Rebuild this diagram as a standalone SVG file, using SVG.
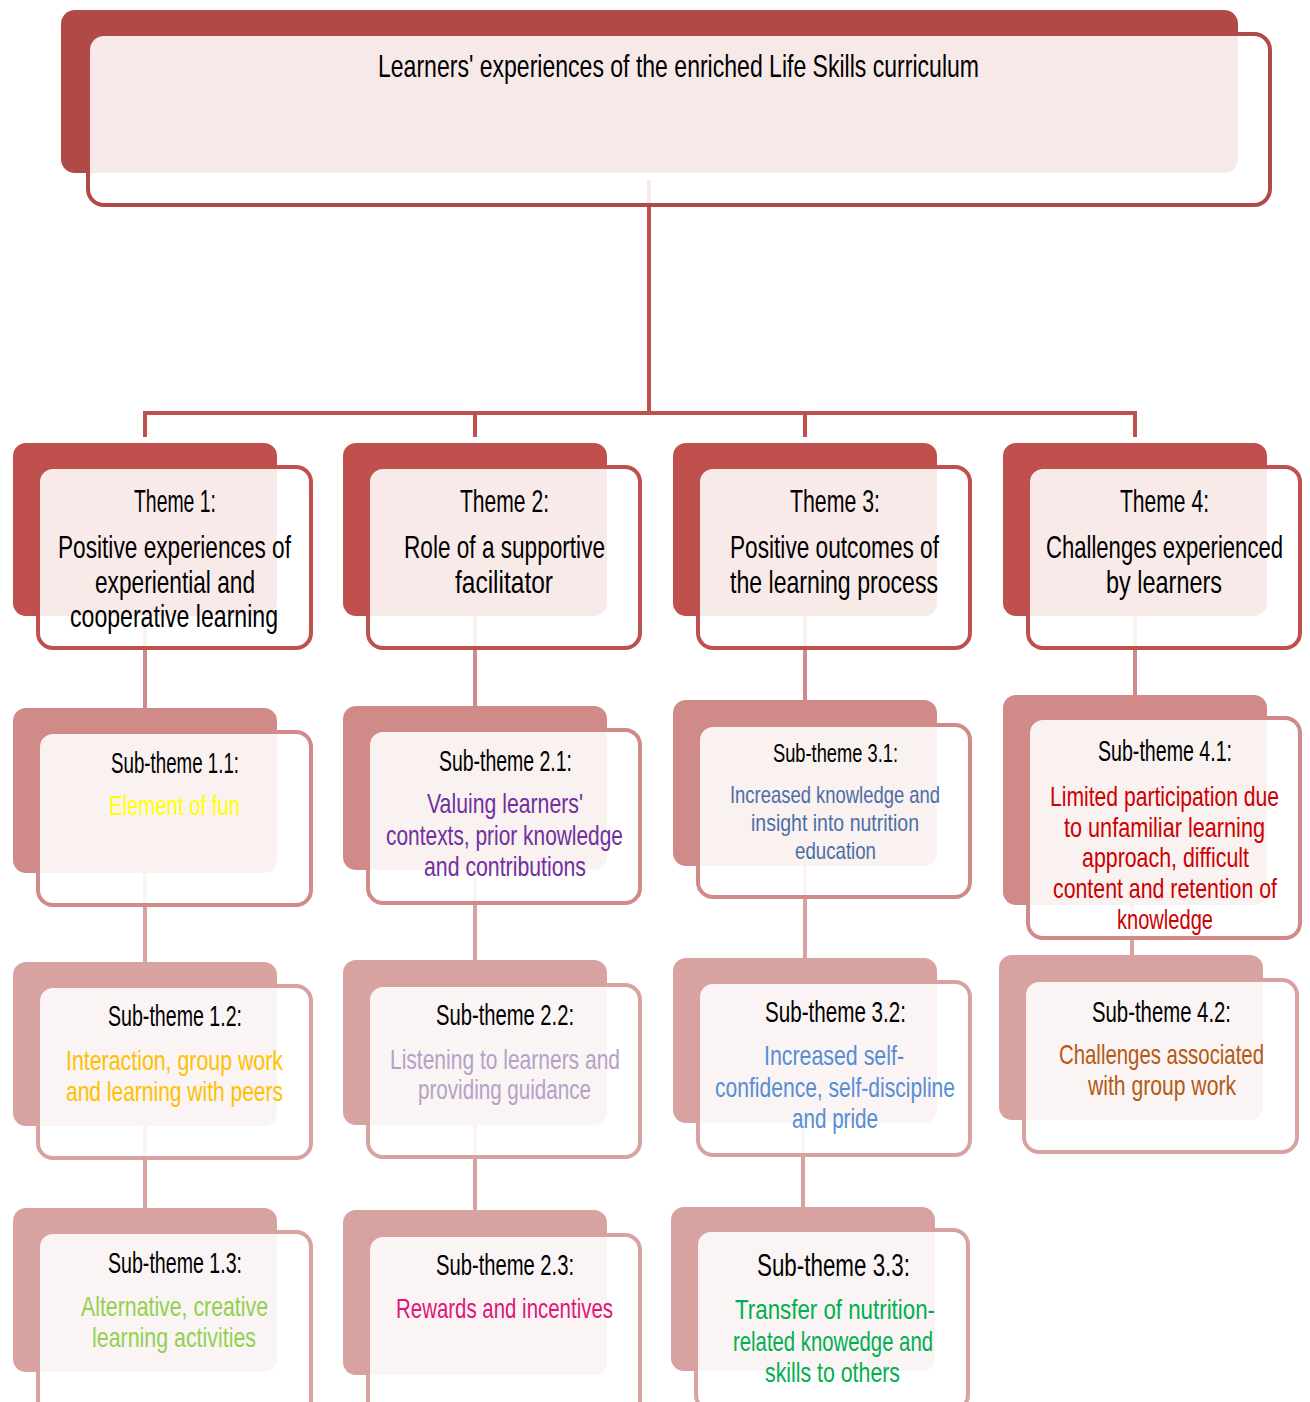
<svg xmlns="http://www.w3.org/2000/svg" width="1310" height="1402" viewBox="0 0 1310 1402">
<style>
text{font-family:"Liberation Sans Narrow","Liberation Sans","DejaVu Sans",sans-serif;text-anchor:middle;font-stretch:condensed}
.lk{fill:none;stroke-width:4}
.f{fill:#fff;fill-opacity:0.88;stroke-width:4}
.c0{fill:#b04a47}.s0{stroke:#b04a47}
.c1{fill:#c0504d}.s1{stroke:#c0504d}
.c2{fill:#d08b89}.s2{stroke:#d08b89}
.c3{fill:#d8a2a1}.s3{stroke:#d8a2a1}
.h{font-size:32px;fill:#000}
.sh{font-size:29px;fill:#000}
.b{font-size:28px}
</style>
<rect width="1310" height="1402" fill="#fff"/>
<g id="connectors">
<path class="lk s1" d="M649 180V413M145 437V413H1135V437M475 413V437M805 413V437"/>
<path class="lk s2" d="M145 616V708M475 616V706M805 616V700M1135 616V695"/>
<path class="lk s3" d="M145 873V962M475 870V960M805 866V958M1132 905V955M145 1126V1208M475 1125V1210M803 1123V1207"/>
</g>
<g id="root">
<rect class="c0" x="61" y="10" width="1177" height="163" rx="14"/>
<rect class="f s0" x="88" y="34" width="1182" height="171" rx="16"/>
<text class="h" x="678.5" y="77" textLength="601" lengthAdjust="spacingAndGlyphs">Learners' experiences of the enriched Life Skills curriculum</text>
</g>
<g id="theme1">
<rect class="c1" x="13" y="443" width="264" height="173" rx="13"/>
<rect class="f s1" x="38" y="467" width="273" height="181" rx="15"/>
<text class="h" x="175" y="512" textLength="82" lengthAdjust="spacingAndGlyphs">Theme 1:</text>
<text class="h" x="174.5" y="558" textLength="233" lengthAdjust="spacingAndGlyphs">Positive experiences of</text>
<text class="h" x="175" y="593" textLength="160" lengthAdjust="spacingAndGlyphs">experiential and</text>
<text class="h" x="174" y="627" textLength="208" lengthAdjust="spacingAndGlyphs">cooperative learning</text>
</g>
<g id="theme2">
<rect class="c1" x="343" y="443" width="264" height="173" rx="13"/>
<rect class="f s1" x="368" y="467" width="272" height="181" rx="15"/>
<text class="h" x="504.5" y="512" textLength="89" lengthAdjust="spacingAndGlyphs">Theme 2:</text>
<text class="h" x="504.5" y="558" textLength="201" lengthAdjust="spacingAndGlyphs">Role of a supportive</text>
<text class="h" x="504" y="593" textLength="98" lengthAdjust="spacingAndGlyphs">facilitator</text>
</g>
<g id="theme3">
<rect class="c1" x="673" y="443" width="264" height="173" rx="13"/>
<rect class="f s1" x="698" y="467" width="272" height="181" rx="15"/>
<text class="h" x="835" y="512" textLength="90" lengthAdjust="spacingAndGlyphs">Theme 3:</text>
<text class="h" x="834.5" y="558" textLength="209" lengthAdjust="spacingAndGlyphs">Positive outcomes of</text>
<text class="h" x="834" y="593" textLength="208" lengthAdjust="spacingAndGlyphs">the learning process</text>
</g>
<g id="theme4">
<rect class="c1" x="1003" y="443" width="264" height="173" rx="13"/>
<rect class="f s1" x="1028" y="467" width="272" height="181" rx="15"/>
<text class="h" x="1164.5" y="512" textLength="89" lengthAdjust="spacingAndGlyphs">Theme 4:</text>
<text class="h" x="1164.5" y="558" textLength="237" lengthAdjust="spacingAndGlyphs">Challenges experienced</text>
<text class="h" x="1164" y="593" textLength="116" lengthAdjust="spacingAndGlyphs">by learners</text>
</g>
<g id="sub1-1">
<rect class="c2" x="13" y="708" width="264" height="165" rx="13"/>
<rect class="f s2" x="38" y="732" width="273" height="173" rx="15"/>
<text class="sh" x="175" y="773" textLength="128" lengthAdjust="spacingAndGlyphs">Sub-theme 1.1:</text>
<text class="b" x="174.5" y="815" fill="#ffff00" textLength="131" lengthAdjust="spacingAndGlyphs">Element of fun</text>
</g>
<g id="sub2-1">
<rect class="c2" x="343" y="706" width="264" height="164" rx="13"/>
<rect class="f s2" x="368" y="730" width="272" height="173" rx="15"/>
<text class="sh" x="505.5" y="771" textLength="133" lengthAdjust="spacingAndGlyphs">Sub-theme 2.1:</text>
<text class="b" x="505" y="813" fill="#7030a0" textLength="156" lengthAdjust="spacingAndGlyphs">Valuing learners'</text>
<text class="b" x="504.5" y="845" fill="#7030a0" textLength="237" lengthAdjust="spacingAndGlyphs">contexts, prior knowledge</text>
<text class="b" x="505" y="876" fill="#7030a0" textLength="162" lengthAdjust="spacingAndGlyphs">and contributions</text>
</g>
<g id="sub3-1">
<rect class="c2" x="673" y="700" width="264" height="166" rx="13"/>
<rect class="f s2" x="698" y="725" width="272" height="172" rx="15"/>
<text style="font-size:25px" x="835.5" y="762" textLength="125" lengthAdjust="spacingAndGlyphs">Sub-theme 3.1:</text>
<text style="font-size:24px" x="835" y="803" fill="#4a6fa5" textLength="210" lengthAdjust="spacingAndGlyphs">Increased knowledge and</text>
<text style="font-size:24px" x="835" y="831" fill="#4a6fa5" textLength="168" lengthAdjust="spacingAndGlyphs">insight into nutrition</text>
<text style="font-size:24px" x="835.5" y="859" fill="#4a6fa5" textLength="81" lengthAdjust="spacingAndGlyphs">education</text>
</g>
<g id="sub4-1">
<rect class="c2" x="1003" y="695" width="264" height="210" rx="13"/>
<rect class="f s2" x="1028" y="718" width="272" height="220" rx="15"/>
<text class="sh" x="1165" y="761" textLength="134" lengthAdjust="spacingAndGlyphs">Sub-theme 4.1:</text>
<text class="b" x="1164.5" y="806" fill="#cc0000" textLength="229" lengthAdjust="spacingAndGlyphs">Limited participation due</text>
<text class="b" x="1164.5" y="837" fill="#cc0000" textLength="201" lengthAdjust="spacingAndGlyphs">to unfamiliar learning</text>
<text class="b" x="1165.5" y="867" fill="#cc0000" textLength="167" lengthAdjust="spacingAndGlyphs">approach, difficult</text>
<text class="b" x="1165" y="898" fill="#cc0000" textLength="224" lengthAdjust="spacingAndGlyphs">content and retention of</text>
<text class="b" x="1165" y="929" fill="#cc0000" textLength="96" lengthAdjust="spacingAndGlyphs">knowledge</text>
</g>
<g id="sub1-2">
<rect class="c3" x="13" y="962" width="264" height="164" rx="13"/>
<rect class="f s3" x="38" y="986" width="273" height="172" rx="15"/>
<text class="sh" x="175" y="1026" textLength="134" lengthAdjust="spacingAndGlyphs">Sub-theme 1.2:</text>
<text class="b" x="174.5" y="1070" fill="#ffc000" textLength="217" lengthAdjust="spacingAndGlyphs">Interaction, group work</text>
<text class="b" x="174.5" y="1101" fill="#ffc000" textLength="217" lengthAdjust="spacingAndGlyphs">and learning with peers</text>
</g>
<g id="sub2-2">
<rect class="c3" x="343" y="960" width="264" height="165" rx="13"/>
<rect class="f s3" x="368" y="985" width="272" height="172" rx="15"/>
<text class="sh" x="505" y="1025" textLength="138" lengthAdjust="spacingAndGlyphs">Sub-theme 2.2:</text>
<text class="b" x="505" y="1069" fill="#b3a2c7" textLength="230" lengthAdjust="spacingAndGlyphs">Listening to learners and</text>
<text class="b" x="504.5" y="1099" fill="#b3a2c7" textLength="173" lengthAdjust="spacingAndGlyphs">providing guidance</text>
</g>
<g id="sub3-2">
<rect class="c3" x="673" y="958" width="264" height="165" rx="13"/>
<rect class="f s3" x="698" y="982" width="272" height="173" rx="15"/>
<text class="sh" x="835.5" y="1022" textLength="141" lengthAdjust="spacingAndGlyphs">Sub-theme 3.2:</text>
<text class="b" x="834" y="1065" fill="#558ed5" textLength="140" lengthAdjust="spacingAndGlyphs">Increased self-</text>
<text class="b" x="835" y="1097" fill="#558ed5" textLength="240" lengthAdjust="spacingAndGlyphs">confidence, self-discipline</text>
<text class="b" x="835" y="1128" fill="#558ed5" textLength="86" lengthAdjust="spacingAndGlyphs">and pride</text>
</g>
<g id="sub4-2">
<rect class="c3" x="999" y="955" width="264" height="165" rx="13"/>
<rect class="f s3" x="1024" y="980" width="273" height="172" rx="15"/>
<text class="sh" x="1161.5" y="1022" textLength="139" lengthAdjust="spacingAndGlyphs">Sub-theme 4.2:</text>
<text class="b" x="1161.5" y="1064" fill="#b35a14" textLength="205" lengthAdjust="spacingAndGlyphs">Challenges associated</text>
<text class="b" x="1162" y="1095" fill="#b35a14" textLength="148" lengthAdjust="spacingAndGlyphs">with group work</text>
</g>
<g id="sub1-3">
<rect class="c3" x="13" y="1208" width="264" height="164" rx="13"/>
<rect class="f s3" x="38" y="1232" width="273" height="185" rx="15"/>
<text class="sh" x="175" y="1273" textLength="134" lengthAdjust="spacingAndGlyphs">Sub-theme 1.3:</text>
<text class="b" x="174.5" y="1316" fill="#92d050" textLength="187" lengthAdjust="spacingAndGlyphs">Alternative, creative</text>
<text class="b" x="174" y="1347" fill="#92d050" textLength="164" lengthAdjust="spacingAndGlyphs">learning activities</text>
</g>
<g id="sub2-3">
<rect class="c3" x="343" y="1210" width="264" height="165" rx="13"/>
<rect class="f s3" x="368" y="1235" width="272" height="185" rx="15"/>
<text class="sh" x="505" y="1275" textLength="138" lengthAdjust="spacingAndGlyphs">Sub-theme 2.3:</text>
<text class="b" x="504.5" y="1318" fill="#e0157a" textLength="217" lengthAdjust="spacingAndGlyphs">Rewards and incentives</text>
</g>
<g id="sub3-3">
<rect class="c3" x="671" y="1207" width="264" height="164" rx="13"/>
<rect class="f s3" x="696" y="1230" width="272" height="180" rx="15"/>
<text style="font-size:31px" x="833.5" y="1276" textLength="153" lengthAdjust="spacingAndGlyphs">Sub-theme 3.3:</text>
<text class="b" x="835" y="1319" fill="#00b050" textLength="200" lengthAdjust="spacingAndGlyphs">Transfer of nutrition-</text>
<text class="b" x="833" y="1351" fill="#00b050" textLength="200" lengthAdjust="spacingAndGlyphs">related knowedge and</text>
<text class="b" x="832.5" y="1382" fill="#00b050" textLength="135" lengthAdjust="spacingAndGlyphs">skills to others</text>
</g>
</svg>
